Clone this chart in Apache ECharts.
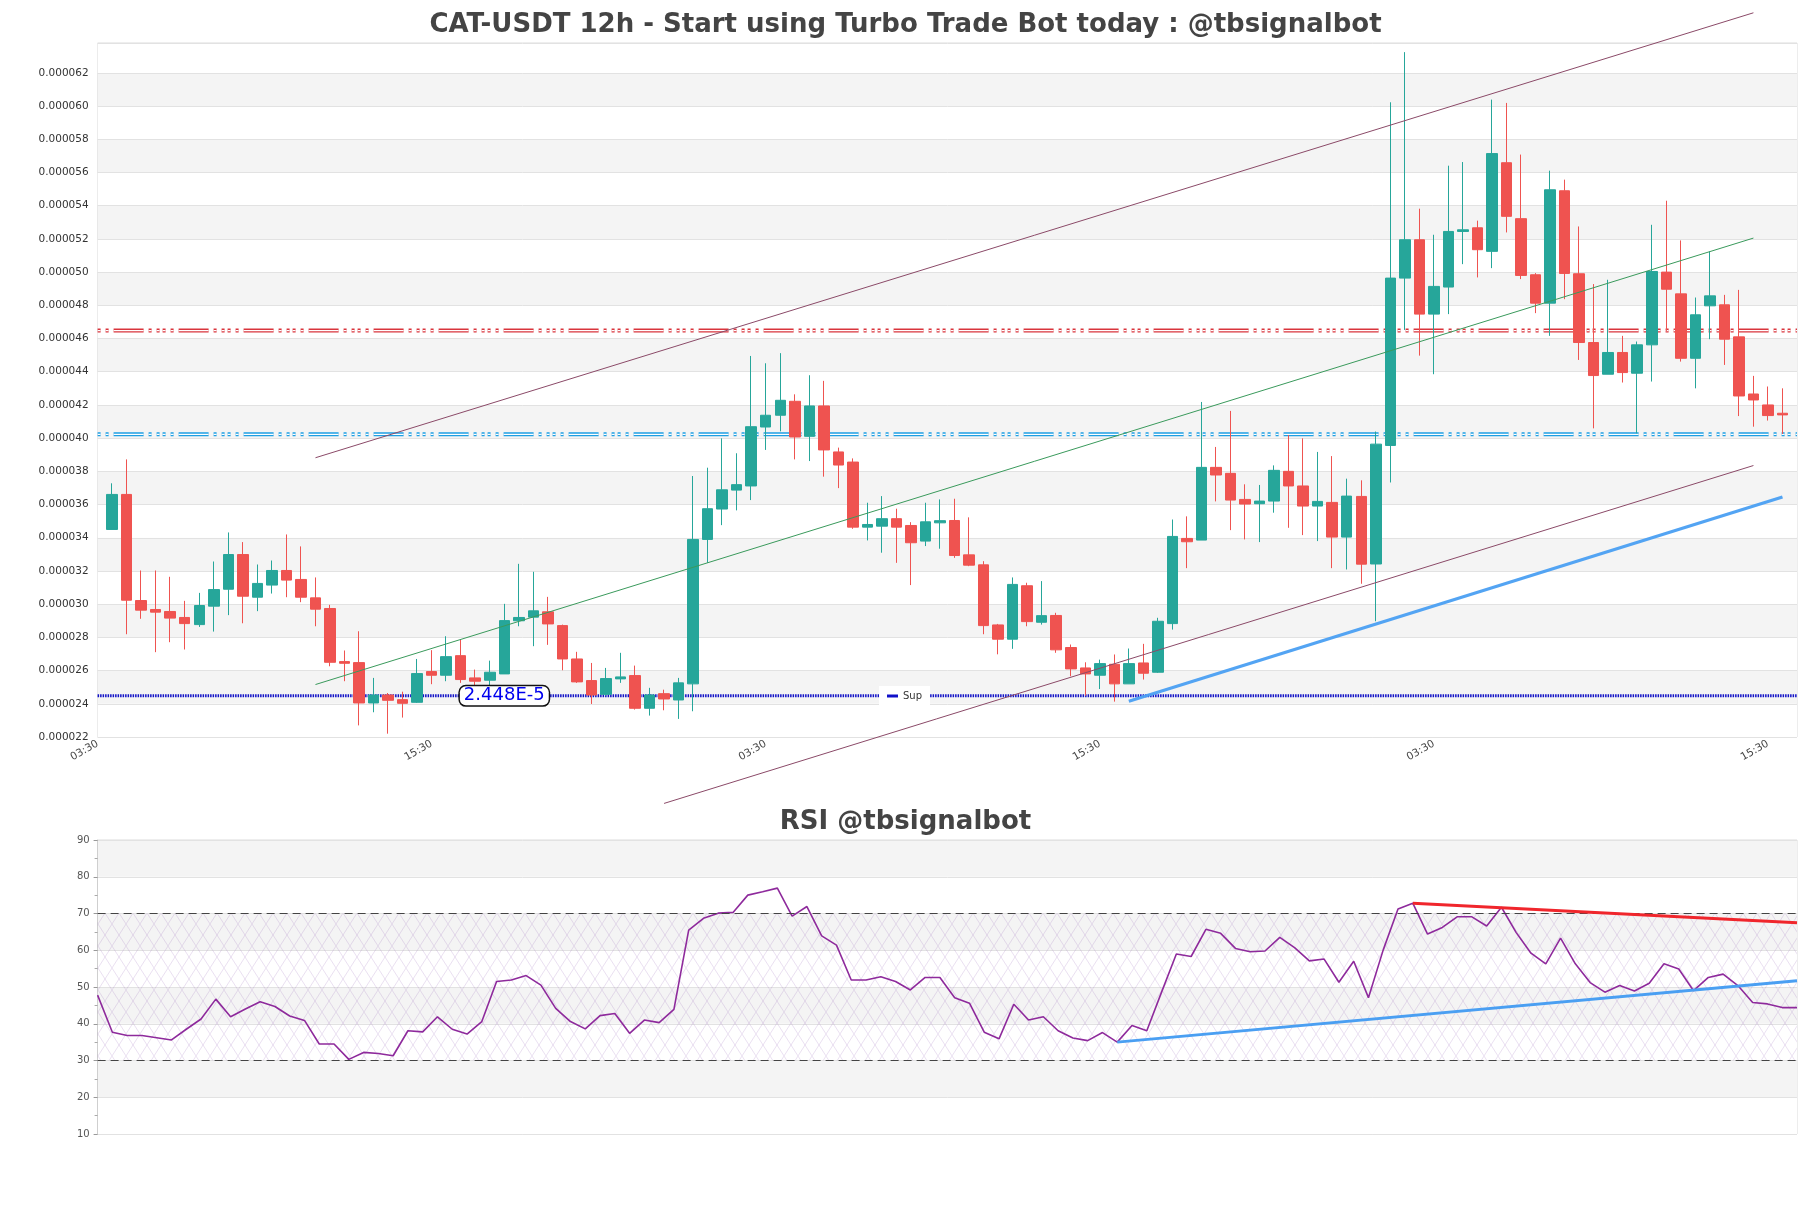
<!DOCTYPE html>
<html>
<head>
<meta charset="utf-8">
<script src="https://cdn.jsdelivr.net/npm/echarts/dist/echarts.min.js"></script>
<style>html,body{margin:0;padding:0;background:#fff}#c{width:1811px;height:1208px}</style>
</head>
<body>
<div id="c"></div>
<script>
// price values in units of 1e-6 USDT
const PRICE_UNIT = 1e-6;
const opens  = [34.50,36.61,30.22,29.68,29.56,29.20,28.77,29.88,30.90,32.99,30.42,31.15,32.03,31.49,30.38,29.74,26.54,26.48,24.05,24.53,24.25,24.09,25.94,25.72,26.90,25.56,25.42,25.80,29.00,29.22,29.54,28.71,26.70,25.40,24.57,25.50,25.70,23.73,24.61,24.23,25.20,33.90,35.73,36.87,37.12,40.67,41.38,42.22,40.11,41.94,39.17,38.56,34.64,34.70,35.15,34.74,33.80,34.90,35.04,32.97,32.37,28.75,27.89,31.11,28.91,29.32,27.39,26.16,25.72,26.38,25.20,26.46,25.90,28.83,33.96,33.86,38.24,37.88,36.31,36.05,36.21,38.00,37.12,35.91,36.13,34.04,36.49,32.42,39.56,49.64,51.95,47.47,49.10,52.45,52.67,51.25,56.59,53.22,49.84,48.13,54.90,49.90,45.76,43.85,45.16,43.91,45.62,50.00,48.69,44.81,47.97,48.03,46.10,42.66,42.00,41.50];
const closes = [36.61,30.24,29.64,29.52,29.16,28.83,29.92,30.88,32.99,30.48,31.25,32.03,31.45,30.42,29.70,26.50,26.44,24.05,24.53,24.21,24.03,25.82,25.72,26.84,25.46,25.36,25.90,29.01,29.20,29.60,28.81,26.70,25.32,24.53,25.52,25.62,23.73,24.53,24.29,25.26,33.90,35.75,36.89,37.20,40.69,41.38,42.28,40.07,41.94,39.29,38.38,34.64,34.80,35.15,34.64,33.70,34.96,35.03,32.93,32.35,28.71,27.89,31.19,28.95,29.31,27.25,26.10,25.80,26.42,25.20,26.42,25.84,28.97,34.08,33.76,38.24,37.78,36.27,36.03,36.21,38.06,37.12,35.91,36.19,34.04,36.51,32.41,39.64,49.64,51.95,47.47,49.14,52.45,52.55,51.35,57.14,53.36,49.80,48.13,54.96,49.92,45.76,43.77,45.16,43.95,45.62,50.04,48.97,44.81,47.43,48.57,45.96,42.54,42.30,41.36,41.40];
const lows   = [34.50,28.19,29.12,27.11,27.71,27.27,28.63,28.35,29.34,28.85,29.58,30.64,30.42,30.12,28.67,26.26,25.36,22.70,23.49,22.20,23.17,24.05,25.18,25.36,25.26,25.00,24.25,25.80,28.67,27.47,27.55,26.02,25.26,23.99,24.49,25.26,23.65,23.29,23.61,23.09,23.55,32.49,34.76,35.65,36.27,39.29,40.41,38.72,38.62,37.68,36.99,34.54,33.84,33.10,32.49,31.15,33.50,33.34,32.79,32.29,28.19,26.98,27.31,28.67,28.77,27.07,25.66,24.49,24.89,24.13,25.20,25.46,25.86,28.47,32.17,33.86,36.19,34.46,33.90,33.74,35.51,34.60,34.16,33.80,32.17,32.09,31.23,28.97,37.33,46.52,44.97,43.85,47.47,50.48,49.68,50.24,52.39,49.58,47.53,46.16,48.37,44.71,40.59,43.85,43.35,40.29,43.41,46.46,44.61,43.00,45.96,44.41,41.33,40.69,41.06,40.25];
const highs  = [37.28,38.72,32.03,32.03,31.65,30.20,30.68,32.57,34.32,33.74,32.39,32.63,34.20,33.48,31.61,29.96,27.21,28.37,25.56,24.65,24.73,26.70,27.23,28.07,27.85,26.06,26.60,30.02,32.43,31.95,30.44,28.77,27.13,26.46,26.16,27.07,26.30,24.96,24.85,25.56,37.72,38.22,39.99,39.09,44.95,44.51,45.12,42.64,43.79,43.45,39.43,38.78,36.11,36.51,35.75,34.94,36.11,36.31,36.35,35.23,32.59,28.81,31.61,31.29,31.39,29.48,27.57,26.50,26.66,26.97,27.33,27.61,29.18,35.10,35.29,42.18,39.47,41.64,37.22,37.18,38.36,40.19,39.99,39.17,38.92,37.56,37.46,40.40,60.23,63.25,53.82,52.25,56.41,56.63,53.10,60.39,60.19,57.08,49.94,56.11,55.57,52.75,49.28,49.54,46.16,45.82,52.85,54.30,51.91,48.47,51.25,48.63,48.93,43.75,43.11,43.00];

const rsi = [47.8,37.7,36.8,36.8,36.2,35.6,38.5,41.3,46.7,41.9,44.0,46.0,44.7,42.1,40.9,34.5,34.5,30.3,32.2,31.9,31.3,38.1,37.8,41.9,38.5,37.2,40.6,51.5,51.9,53.1,50.5,44.2,40.6,38.6,42.2,42.8,37.4,41.0,40.3,43.9,65.5,68.7,70.1,70.3,75.0,75.9,76.9,69.3,71.9,63.9,61.4,51.9,51.9,52.8,51.5,49.2,52.6,52.6,47.1,45.6,37.7,35.9,45.3,41.0,41.9,38.1,36.1,35.4,37.6,35.0,39.5,38.1,48.6,59.0,58.3,65.7,64.6,60.5,59.6,59.8,63.5,60.7,57.1,57.6,51.3,57.0,47.1,60.1,71.2,72.8,64.4,66.2,69.1,69.1,66.6,71.7,64.8,59.2,56.3,63.3,56.3,51.2,48.6,50.4,48.9,51.0,56.3,54.9,49.0,52.6,53.5,50.4,45.8,45.4,44.4,44.4];

const tickLabels = ['03:30','15:30','03:30','15:30','03:30','15:30'];
const slotsPerTick = 23;

// horizontal levels (1e-6)
const resistanceLevel = 46.48;
const pivotLevel = 40.23;
const supportLevel = 24.48;
const supportLabel = '2.448E-5';
const supportLabelCandle = 27;

// trend lines as [candleIndex, value(1e-6)]
const upperChannel = [[14, 38.82], [113, 65.62]];
const midChannel   = [[14, 25.16], [113, 52.05]];
const lowerChannel = [[38, 18.00], [113, 38.35]];
const supportTrend = [[70, 24.15], [115, 36.45]];
// RSI trend lines as [rsiIndex, value]
const rsiDownTrend = [[89, 72.8], [115, 67.5]];
const rsiUpTrend   = [[69, 35.0], [115, 51.7]];

const yMin = 22, yMax = 63.8, yStep = 2;

// ---------- build ----------
const nSlots = opens.length + 2;
const slots = [];
for (let i = 0; i < nSlots; i++) slots.push('s' + i);
const candleData = opens.map((o, k) => [k + 1, o * PRICE_UNIT, closes[k] * PRICE_UNIT, lows[k] * PRICE_UNIT, highs[k] * PRICE_UNIT]);
const toXY = arr => arr.map(p => [p[0] + 1, p[1] * PRICE_UNIT]);
const hLine = v => [[0, v * PRICE_UNIT], [nSlots - 1, v * PRICE_UNIT]];

function hatch() {
  const c = document.createElement('canvas');
  c.width = 14; c.height = 22;
  const g = c.getContext('2d');
  g.strokeStyle = 'rgba(150,105,185,0.26)';
  g.lineWidth = 0.8;
  g.beginPath();
  g.moveTo(0, 0); g.lineTo(14, 22);
  g.moveTo(14, 0); g.lineTo(0, 22);
  g.stroke();
  return c;
}

const FONT = 'DejaVu Sans';
const dashPat = [3, 5, 3, 5, 30, 5, 3, 5, 3, 3];

const chart = echarts.init(document.getElementById('c'), null, {renderer: 'canvas'});
chart.setOption({
  animation: false,
  backgroundColor: '#fff',
  textStyle: {fontFamily: FONT},
  title: [
    {text: 'CAT-USDT 12h - Start using Turbo Trade Bot today : @tbsignalbot', left: 'center', top: 12, padding: 0,
     textStyle: {fontSize: 26, fontWeight: 'bold', color: '#444', fontFamily: FONT}},
    {text: 'RSI @tbsignalbot', left: 'center', top: 809, padding: 0,
     textStyle: {fontSize: 26, fontWeight: 'bold', color: '#444', fontFamily: FONT}}
  ],
  legend: {
    data: ['Sup'], left: 879, top: 686, padding: [5, 8], backgroundColor: '#fff',
    icon: 'rect', itemWidth: 11, itemHeight: 3,
    textStyle: {fontSize: 10, color: '#333', fontFamily: FONT}
  },
  grid: [
    {left: 97.6, right: 14, top: 43, height: 694, show: true, borderColor: '#dcdcdc', borderWidth: 1},
    {left: 97.6, right: 14, top: 840, height: 294, show: true, borderColor: '#dcdcdc', borderWidth: 1}
  ],
  xAxis: [
    {type: 'category', gridIndex: 0, data: slots, boundaryGap: false,
     axisLine: {show: false}, axisTick: {show: false}, splitLine: {show: false},
     axisLabel: {rotate: 30, margin: 6, fontSize: 10.5, color: '#444', fontFamily: FONT,
       interval: idx => idx % slotsPerTick === 0,
       formatter: (v, idx) => (idx % slotsPerTick === 0 ? (tickLabels[idx / slotsPerTick] || '') : '')}},
    {type: 'value', gridIndex: 1, min: 0, max: rsi.length - 1, show: false}
  ],
  yAxis: [
    {type: 'value', gridIndex: 0, min: yMin * PRICE_UNIT, max: yMax * PRICE_UNIT, interval: yStep * PRICE_UNIT,
     axisLine: {show: false}, axisTick: {show: false},
     axisLabel: {fontSize: 10.5, color: '#333', margin: 9, fontFamily: FONT,
       formatter: v => (v > (yMax - 0.5) * PRICE_UNIT ? '' : v.toFixed(6))},
     splitLine: {lineStyle: {color: '#e2e2e2', width: 1}},
     splitArea: {show: true, areaStyle: {color: ['#ffffff', '#f4f4f4']}}},
    {type: 'value', gridIndex: 1, min: 10, max: 90, interval: 10,
     axisLine: {show: true, lineStyle: {color: '#cfcfcf'}},
     axisTick: {show: true, length: 4, lineStyle: {color: '#999'}},
     minorTick: {show: true, splitNumber: 2, length: 3, lineStyle: {color: '#aaa'}},
     axisLabel: {fontSize: 10, color: '#555', margin: 8, fontFamily: FONT},
     splitLine: {lineStyle: {color: '#e2e2e2'}},
     splitArea: {show: true, areaStyle: {color: ['#ffffff', '#f4f4f4']}}}
  ],
  series: [
    {type: 'line', name: 'res', data: hLine(resistanceLevel), xAxisIndex: 0, yAxisIndex: 0, symbol: 'none', silent: true, z: 3,
     lineStyle: {color: '#d9343c', width: 4, type: dashPat}},
    {type: 'line', name: 'res2', data: hLine(resistanceLevel), xAxisIndex: 0, yAxisIndex: 0, symbol: 'none', silent: true, z: 3,
     lineStyle: {color: '#ffffff', width: 1.3, type: dashPat}},
    {type: 'line', name: 'piv', data: hLine(pivotLevel), xAxisIndex: 0, yAxisIndex: 0, symbol: 'none', silent: true, z: 3,
     lineStyle: {color: '#1e9fe3', width: 4, type: dashPat}},
    {type: 'line', name: 'piv2', data: hLine(pivotLevel), xAxisIndex: 0, yAxisIndex: 0, symbol: 'none', silent: true, z: 3,
     lineStyle: {color: '#ffffff', width: 1.3, type: dashPat}},
    {type: 'line', name: 'Sup', data: hLine(supportLevel), xAxisIndex: 0, yAxisIndex: 0, symbol: 'none', silent: true, z: 3,
     itemStyle: {color: '#1010c8'},
     lineStyle: {color: '#1010c8', width: 3, type: [1.5, 1]},
     markPoint: {symbolSize: 0, silent: true,
       data: [{coord: [supportLabelCandle + 1, supportLevel * PRICE_UNIT], value: supportLabel}],
       label: {show: true, position: 'inside', formatter: supportLabel, color: '#0000ee', fontSize: 18, fontFamily: FONT,
         backgroundColor: '#fff', borderColor: '#111', borderWidth: 1.5, borderRadius: 6, padding: [1, 4, 0, 4]}}},
    {type: 'candlestick', name: 'CAT-USDT', xAxisIndex: 0, yAxisIndex: 0, data: candleData, encode: {x: 0, y: [1, 2, 3, 4]},
     barWidth: 11, z: 4,
     itemStyle: {color: '#26a69a', color0: '#ef5350', borderColor: '#26a69a', borderColor0: '#ef5350', borderWidth: 1}},
    {type: 'line', name: 'up', data: toXY(upperChannel), xAxisIndex: 0, yAxisIndex: 0, symbol: 'none', silent: true, clip: false, z: 5,
     lineStyle: {color: '#8b4a68', width: 1}},
    {type: 'line', name: 'mid', data: toXY(midChannel), xAxisIndex: 0, yAxisIndex: 0, symbol: 'none', silent: true, clip: false, z: 5,
     lineStyle: {color: '#3a9a5c', width: 1}},
    {type: 'line', name: 'low', data: toXY(lowerChannel), xAxisIndex: 0, yAxisIndex: 0, symbol: 'none', silent: true, clip: false, z: 5,
     lineStyle: {color: '#8b4a68', width: 1}},
    {type: 'line', name: 'supTrend', data: toXY(supportTrend), xAxisIndex: 0, yAxisIndex: 0, symbol: 'none', silent: true, clip: false, z: 5,
     lineStyle: {color: '#4a9ff2', width: 3.2, opacity: 0.95}},
    // RSI
    {type: 'line', name: 'RSI', xAxisIndex: 1, yAxisIndex: 1, data: rsi.map((v, i) => [i, v]), symbol: 'none', silent: true, z: 4,
     lineStyle: {color: '#8e2a9c', width: 1.6},
     markArea: {silent: true, itemStyle: {color: {image: hatch(), repeat: 'repeat'}},
       data: [[{yAxis: 30}, {yAxis: 70}]]},
     markLine: {silent: true, symbol: 'none', label: {show: false},
       lineStyle: {color: '#444', width: 1.2, type: [8, 5]},
       data: [{yAxis: 70}, {yAxis: 30}]}},
    {type: 'line', name: 'rsiDown', xAxisIndex: 1, yAxisIndex: 1, data: rsiDownTrend, symbol: 'none', silent: true, z: 5,
     lineStyle: {color: '#f0262c', width: 3}},
    {type: 'line', name: 'rsiUp', xAxisIndex: 1, yAxisIndex: 1, data: rsiUpTrend, symbol: 'none', silent: true, z: 5,
     lineStyle: {color: '#4a9ff2', width: 3}}
  ]
});
</script>
</body>
</html>
